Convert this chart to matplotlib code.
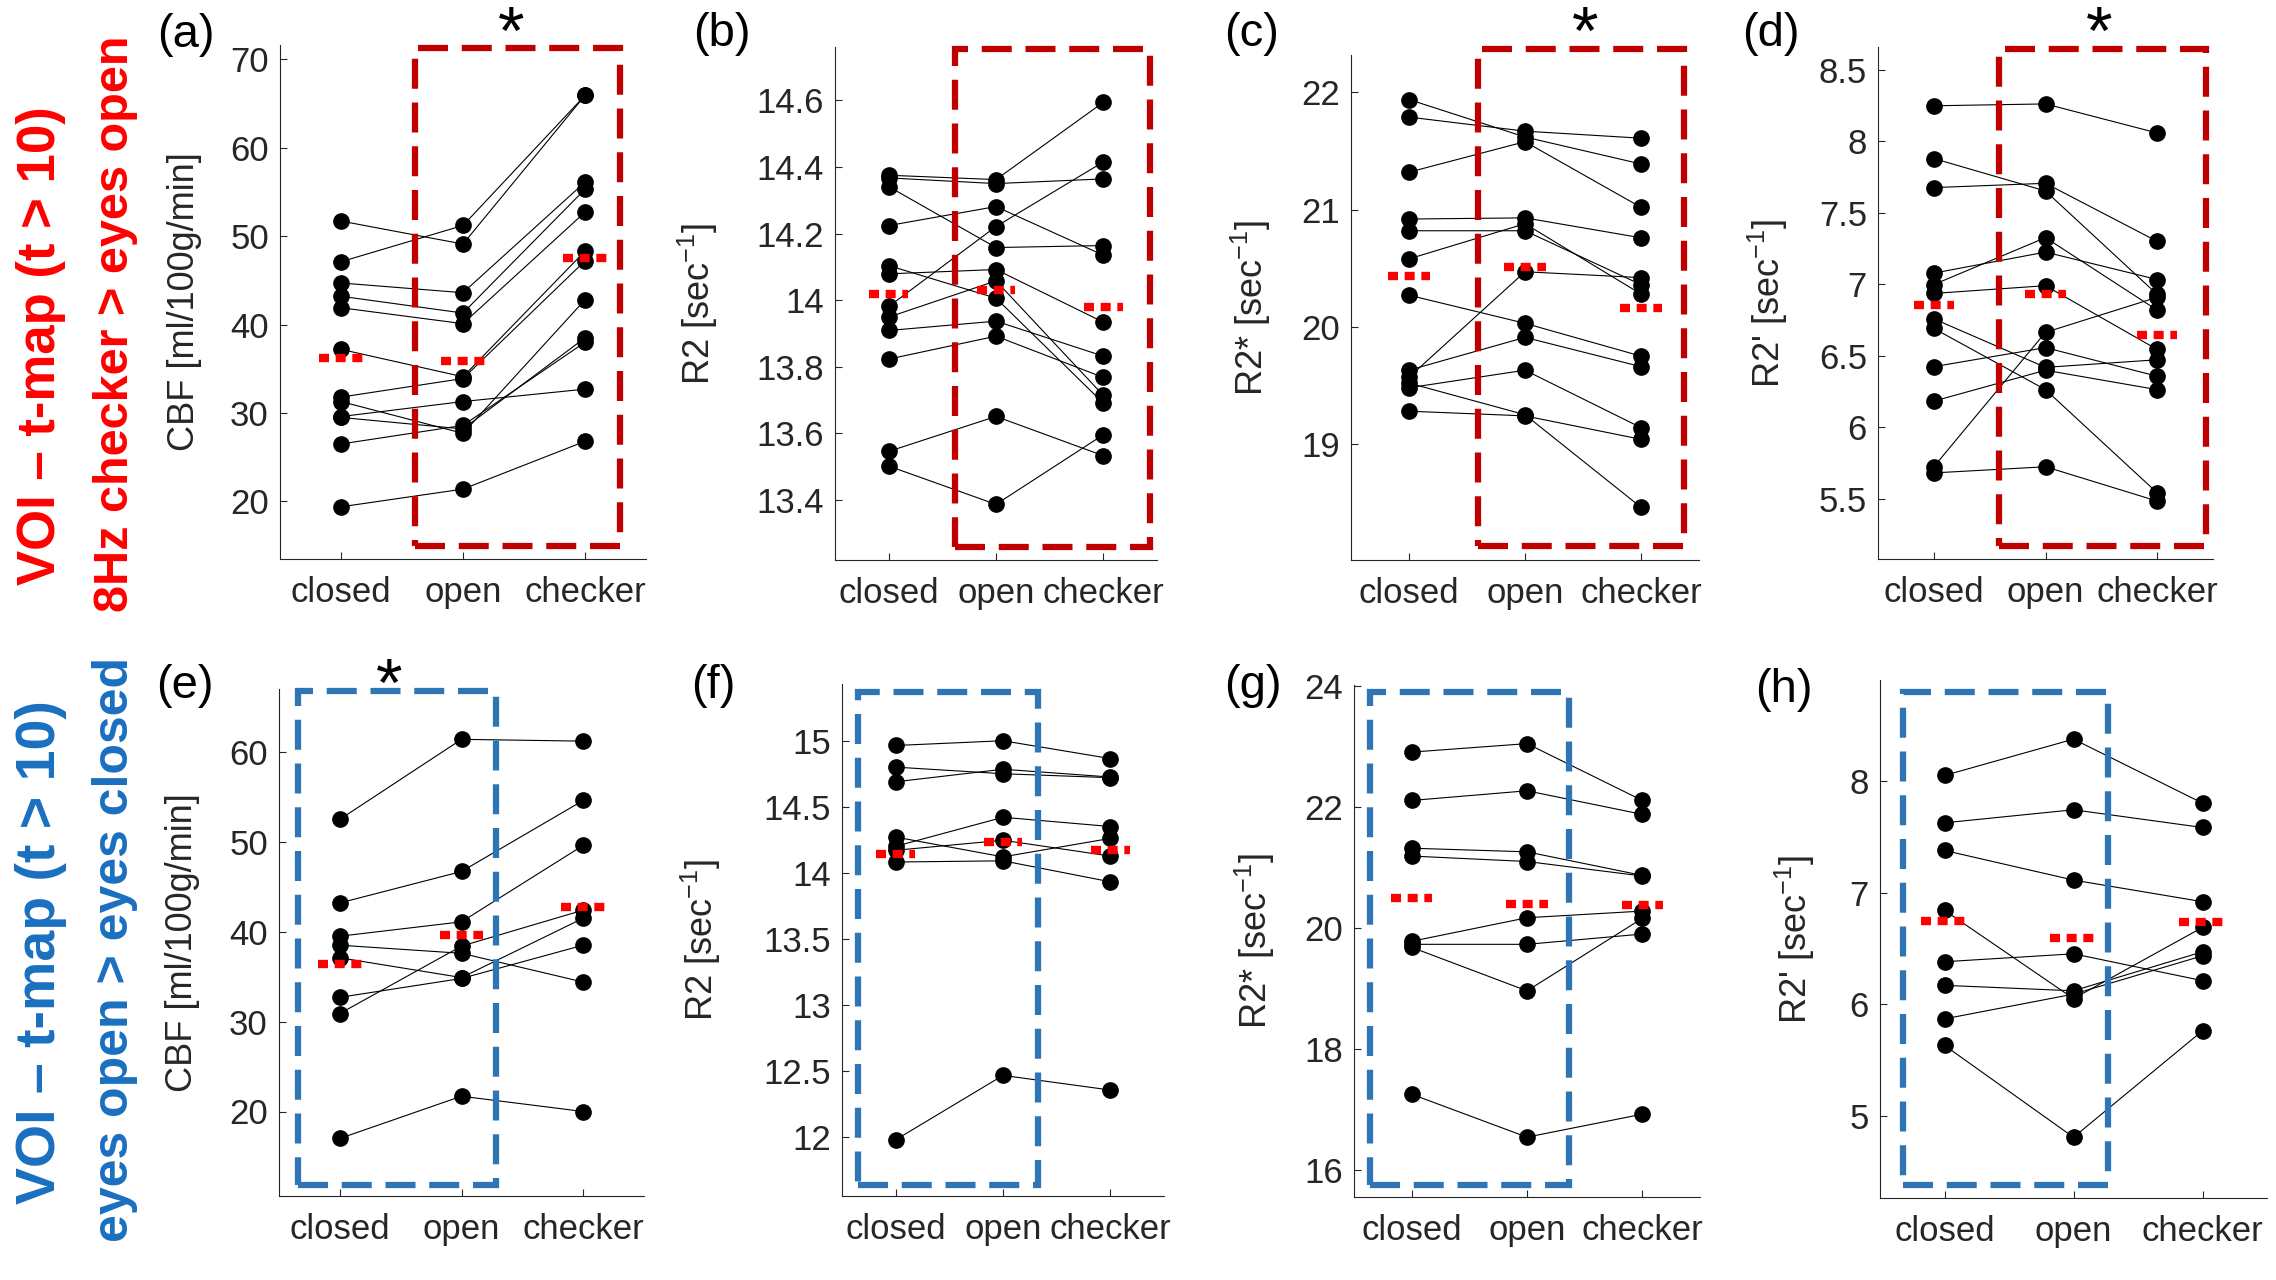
import matplotlib
matplotlib.use("Agg")
import matplotlib.pyplot as plt
from matplotlib.patches import Rectangle
from matplotlib.ticker import FormatStrFormatter

plt.rcParams['font.family'] = ['Liberation Sans', 'DejaVu Sans']
plt.rcParams['mathtext.fontset'] = 'custom'
plt.rcParams['mathtext.rm'] = 'Liberation Sans'
plt.rcParams['mathtext.it'] = 'Liberation Sans:italic'

conditions = ["closed", "open", "checker"]

## top row: VOI from 8Hz checker > eyes open
a_closed = [51.7, 47.1, 44.7, 43.2, 41.9, 37.2, 31.8, 31.3, 29.6, 29.5, 26.5, 19.4]
a_open = [49.1, 51.2, 43.6, 41.3, 40.1, 34.1, 33.9, 27.7, 31.3, 28.2, 28.6, 21.4]
a_checker = [65.9, 65.9, 56.1, 55.3, 52.7, 48.3, 47.2, 42.8, 32.7, 38.5, 38.0, 26.8]
a_mean = [36.2, 35.9, 47.5]

b_closed = [14.375, 14.367, 14.341, 14.224, 14.104, 14.079, 13.981, 13.949, 13.909, 13.823, 13.546, 13.502]
b_open = [14.362, 14.350, 14.158, 14.281, 14.006, 14.092, 14.221, 14.058, 13.937, 13.892, 13.651, 13.387]
b_checker = [14.594, 14.364, 14.164, 14.135, 13.691, 13.934, 14.415, 13.714, 13.832, 13.768, 13.533, 13.596]
b_mean = [14.018, 14.032, 13.978]

c_closed = [21.94, 21.79, 21.32, 20.92, 20.82, 20.58, 20.27, 19.63, 19.57, 19.52, 19.48, 19.28]
c_open = [21.62, 21.67, 21.58, 20.93, 20.82, 20.88, 20.03, 19.91, 20.47, 19.25, 19.63, 19.24]
c_checker = [21.39, 21.61, 21.02, 20.76, 20.36, 20.28, 19.75, 19.66, 20.42, 18.46, 19.14, 19.04]
c_mean = [20.43, 20.51, 20.16]

d_closed = [8.249, 7.880, 7.677, 7.079, 6.999, 6.937, 6.759, 6.692, 6.425, 6.184, 5.725, 5.682]
d_open = [8.262, 7.653, 7.707, 7.226, 7.327, 6.991, 6.420, 6.264, 6.558, 6.400, 6.665, 5.725]
d_checker = [8.059, 6.930, 7.301, 7.034, 6.820, 6.545, 6.473, 5.543, 6.358, 6.264, 6.910, 5.485]
d_mean = [6.857, 6.932, 6.644]

## bottom row: VOI from eyes open > eyes closed
e_closed = [52.5, 43.2, 39.5, 38.5, 37.1, 32.7, 30.9, 17.0]
e_open = [61.4, 46.7, 41.1, 37.6, 34.9, 34.8, 38.4, 21.7]
e_checker = [61.2, 54.6, 49.6, 34.4, 41.5, 38.5, 42.4, 20.0]
e_mean = [36.4, 39.6, 42.8]

f_closed = [14.964, 14.800, 14.689, 14.270, 14.200, 14.170, 14.081, 11.976]
f_open = [15.000, 14.750, 14.784, 14.120, 14.420, 14.246, 14.090, 12.464]
f_checker = [14.865, 14.720, 14.725, 14.260, 14.350, 14.126, 13.931, 12.353]
f_mean = [14.14, 14.23, 14.17]

g_closed = [22.91, 22.11, 21.32, 21.19, 19.78, 19.73, 19.68, 17.25]
g_open = [23.05, 22.27, 21.26, 21.10, 20.17, 19.73, 18.96, 16.54]
g_checker = [22.11, 21.88, 20.87, 20.86, 20.28, 19.90, 20.16, 16.92]
g_mean = [20.49, 20.39, 20.38]

h_closed = [8.053, 7.628, 7.380, 6.842, 6.381, 6.169, 5.868, 5.630]
h_open = [8.379, 7.745, 7.114, 6.050, 6.452, 6.120, 6.090, 4.805]
h_checker = [7.805, 7.586, 6.920, 6.689, 6.211, 6.470, 6.434, 5.761]
h_mean = [6.750, 6.594, 6.735]

ylabel_cbf = "CBF [ml/100g/min]"
ylabel_r2 = "R2 [sec$^{-1}$]"
ylabel_r2s = "R2* [sec$^{-1}$]"
ylabel_r2p = "R2' [sec$^{-1}$]"

RED_BOX = "#c00000"
BLUE_BOX = "#2e75b6"
TXT = "#262626"

W, H = 2276, 1280
fig = plt.figure(figsize=(W / 100, H / 100), dpi=100)

# (letter, data, mean, ylim, yticks, ylabel, axes rect px, label x, box frac, box colour, star, letter pos)
panels = [
    ("(a)", (a_closed, a_open, a_checker), a_mean, (13.5, 71.6), [20, 30, 40, 50, 60, 70], ylabel_cbf,
     (280, 45, 646, 559), -0.213, (0.369, 0.025, 0.929, 0.994), RED_BOX, (511, 36), (186, 35)),
    ("(b)", (b_closed, b_open, b_checker), b_mean, (13.22, 14.76), [13.4, 13.6, 13.8, 14, 14.2, 14.4, 14.6], ylabel_r2,
     (835, 47, 1157, 560), -0.357, (0.372, 0.026, 0.977, 0.996), RED_BOX, None, (722, 34)),
    ("(c)", (c_closed, c_open, c_checker), c_mean, (18.01, 22.32), [19, 20, 21, 22], ylabel_r2s,
     (1351, 55, 1699, 560), -0.224, (0.365, 0.027, 0.956, 1.011), RED_BOX, (1585, 36), (1252, 34)),
    ("(d)", (d_closed, d_open, d_checker), d_mean, (5.08, 8.66), [5.5, 6, 6.5, 7, 7.5, 8, 8.5], ylabel_r2p,
     (1878, 47, 2213, 559), -0.263, (0.360, 0.025, 0.980, 0.996), RED_BOX, (2099, 36), (1771, 34)),
    ("(e)", (e_closed, e_open, e_checker), e_mean, (10.6, 67.0), [20, 30, 40, 50, 60], ylabel_cbf,
     (279, 689, 644, 1196), -0.216, (0.053, 0.021, 0.595, 0.996), BLUE_BOX, (389, 688), (185, 686)),
    ("(f)", (f_closed, f_open, f_checker), f_mean, (11.55, 15.43), [12, 12.5, 13, 13.5, 14, 14.5, 15], ylabel_r2,
     (842, 684, 1164, 1196), -0.370, (0.050, 0.021, 0.610, 0.985), BLUE_BOX, None, (713, 686)),
    ("(g)", (g_closed, g_open, g_checker), g_mean, (15.55, 24.02), [16, 18, 20, 22, 24], ylabel_r2s,
     (1354, 685, 1700, 1197), -0.223, (0.047, 0.023, 0.621, 0.987), BLUE_BOX, None, (1253, 686)),
    ("(h)", (h_closed, h_open, h_checker), h_mean, (4.26, 8.91), [5, 6, 7, 8], ylabel_r2p,
     (1880, 680, 2267, 1198), -0.163, (0.059, 0.025, 0.589, 0.977), BLUE_BOX, None, (1784, 690)),
]

xs = [1, 2, 3]

for (letter, data, mean, ylim, yticks, ylabel, rect, lab_x, box, box_col, star, lpos) in panels:
    l, t, r, b = rect
    ax = fig.add_axes([l / W, 1 - b / H, (r - l) / W, (b - t) / H])
    closed, opened, checker = data
    for i in range(len(closed)):
        ax.plot(xs, [closed[i], opened[i], checker[i]], color="black", lw=0.8,
                marker="o", ms=11, mfc="black", mec="black", zorder=2)
    # group means as short red dotted bars
    for j, m in enumerate(mean):
        ax.plot([xs[j] - 0.18, xs[j] + 0.18], [m, m], color="#ff0000", lw=6,
                linestyle=(0, (1.2, 0.8)), dash_capstyle="butt", zorder=4)
    ax.set_xlim(0.5, 3.5)
    ax.set_ylim(*ylim)
    ax.set_xticks(xs)
    ax.set_xticklabels(conditions)
    ax.set_yticks(yticks)
    ax.yaxis.set_major_formatter(FormatStrFormatter("%g"))
    ax.tick_params(direction="in", length=5, width=0.8, colors=TXT, labelsize=25)
    ax.tick_params(axis="x", pad=12)
    ax.tick_params(axis="y", pad=8)
    for s in ["top", "right"]:
        ax.spines[s].set_visible(False)
    for s in ["left", "bottom"]:
        ax.spines[s].set_color(TXT)
        ax.spines[s].set_linewidth(0.8)
    ax.set_ylabel(ylabel, fontsize=26, color=TXT)
    ax.yaxis.set_label_coords(lab_x, 0.5)

    x0, y0, x1, y1 = box
    ax.add_patch(Rectangle((x0, y0), x1 - x0, y1 - y0, transform=ax.transAxes, fill=False,
                           ec=box_col, lw=4.5, linestyle=(0, (4.8, 2.2)), clip_on=False, zorder=3))
    if star is not None:
        fig.text(star[0] / W, 1 - star[1] / H, "*", fontsize=49, ha="center", va="center", color="black")
    fig.text(lpos[0] / W, 1 - lpos[1] / H, letter, fontsize=34, ha="center", va="center", color="black")

side_font = ['Liberation Sans Narrow', 'Liberation Sans', 'DejaVu Sans']
fig.text(41 / W, 1 - 346 / H, "VOI \u2013 t-map (t > 10)", rotation=90, fontsize=38, fontweight="bold",
         color="#ff0000", ha="center", va="center", family=side_font)
fig.text(115 / W, 1 - 324 / H, "8Hz checker > eyes open", rotation=90, fontsize=35, fontweight="bold",
         color="#ff0000", ha="center", va="center", family=side_font)
fig.text(41 / W, 1 - 952 / H, "VOI \u2013 t-map (t > 10)", rotation=90, fontsize=40, fontweight="bold",
         color="#1a6fc0", ha="center", va="center", family=side_font)
fig.text(115 / W, 1 - 950 / H, "eyes open > eyes closed", rotation=90, fontsize=36, fontweight="bold",
         color="#1a6fc0", ha="center", va="center", family=side_font)

fig.savefig("out.png", dpi=100, facecolor="white")
